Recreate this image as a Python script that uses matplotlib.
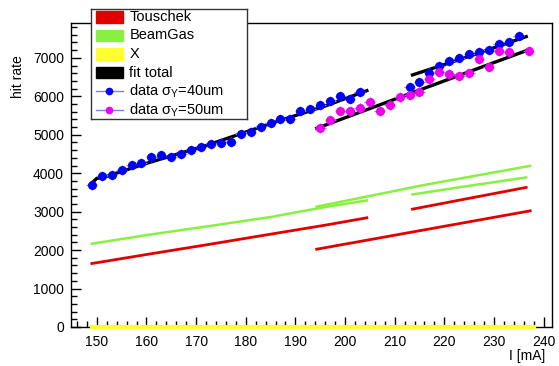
import matplotlib
matplotlib.use('Agg')
import matplotlib.pyplot as plt
from matplotlib.patches import Rectangle
from matplotlib.lines import Line2D
from matplotlib.ticker import MultipleLocator

plt.rcParams['font.family'] = ['Liberation Sans', 'DejaVu Sans']

# measured hit rate, sigma_Y = 40um
cur_40 = [149, 151, 153, 155, 157, 159, 161, 163, 165, 167, 169, 171, 173, 175,
          177, 179, 181, 183, 185, 187, 189, 191, 193, 195, 197, 199, 201, 203,
          213, 215, 217, 219, 221, 223, 225, 227, 229, 231, 233, 235]
rate_40 = [3690, 3917, 3943, 4073, 4203, 4271, 4411, 4479, 4427, 4505, 4602, 4684, 4770, 4797,
           4814, 5022, 5074, 5193, 5313, 5401, 5409, 5612, 5681, 5773, 5880, 5995, 5926, 6120,
           6250, 6364, 6599, 6797, 6927, 7005, 7094, 7161, 7198, 7362, 7414, 7578]

# measured hit rate, sigma_Y = 50um
cur_50 = [195, 197, 199, 201, 203, 205, 207, 209, 211, 213, 215, 217, 219, 221,
          223, 225, 227, 229, 231, 233, 237]
rate_50 = [5167, 5391, 5609, 5625, 5695, 5844, 5609, 5781, 5990, 6026, 6120, 6443, 6641, 6581,
           6521, 6599, 6964, 6771, 7180, 7154, 7188]

# fit components, 40um first fill
cur_40a = [149.0, 160, 172.5, 185, 196, 204.4]
tous_40a = [1651, 1885, 2146, 2414, 2648, 2840]
gas_40a = [2165, 2390, 2622, 2860, 3120, 3290]
cur_fit_40a = [149.1, 150.0, 151.7, 160, 172.5, 185, 196, 204.4]
fit_40a = [3760, 3865, 3906, 4255, 4740, 5290, 5747, 6146]

# fit components, 40um second fill
cur_40b = [213.6, 224.6, 236.5]
tous_40b = [3065, 3337, 3630]
gas_40b = [3447, 3664, 3890]
fit_40b = [6555, 7020, 7552]

# fit components, 50um
cur_50f = [194.3, 215.8, 237.3]
tous_50 = [2023, 2522, 3021]
gas_50 = [3130, 3690, 4190]
fit_50 = [5167, 6200, 7224]

# X component
cur_x = [149, 238]
rate_x = [0, 0]

red = '#e00000'
green = '#88f040'
yellow = '#ffff30'
errc = '#8080e0'

fig = plt.figure(figsize=(5.59, 3.66), dpi=100)
ax = fig.add_axes([71 / 559, 1 - 327 / 366, (552 - 71) / 559, (327 - 23) / 366])

for c, t in [(cur_40a, tous_40a), (cur_40b, tous_40b), (cur_50f, tous_50)]:
    ax.plot(c, t, color=red, lw=2.0, zorder=2)
for c, g in [(cur_40a, gas_40a), (cur_40b, gas_40b), (cur_50f, gas_50)]:
    ax.plot(c, g, color=green, lw=1.8, zorder=2)
ax.plot(cur_x, rate_x, color=yellow, lw=3, zorder=5, clip_on=False)
for c, f in [(cur_fit_40a, fit_40a), (cur_40b, fit_40b), (cur_50f, fit_50)]:
    ax.plot(c, f, color='black', lw=2.4, zorder=3)

ax.errorbar(cur_40, rate_40, xerr=1.1, yerr=130, fmt='o', color='#0000ff', ms=5.5,
            ecolor=errc, elinewidth=1, capsize=0, zorder=4)
ax.errorbar(cur_50, rate_50, xerr=1.1, yerr=130, fmt='o', color='#ee00ee', ms=5.5,
            ecolor=errc, elinewidth=1, capsize=0, zorder=4)

ax.set_xlim(144.8, 241.7)
ax.set_ylim(0, 7906)
ax.xaxis.set_major_locator(MultipleLocator(10))
ax.xaxis.set_minor_locator(MultipleLocator(2))
ax.yaxis.set_major_locator(MultipleLocator(1000))
ax.yaxis.set_minor_locator(MultipleLocator(200))
ax.tick_params(which='both', direction='in', top=False, right=False, labelsize=10)
ax.tick_params(which='major', length=7, width=1)
ax.tick_params(which='minor', length=4, width=1)
ax.tick_params(axis='y', pad=5)
ax.tick_params(axis='x', pad=6)
for s in ax.spines.values():
    s.set_linewidth(1)
    s.set_color('black')

fig.text(18 / 559, 1 - 55 / 366, 'hit rate', rotation=90, ha='center', va='top', fontsize=10)
fig.text(545 / 559, 1 - 349 / 366, 'I [mA]', ha='right', va='top', fontsize=10)

# legend
lg = fig.add_axes([91 / 559, 1 - 119 / 366, 156 / 559, 110 / 366], zorder=10)
lg.set_xlim(0, 1)
lg.set_ylim(0, 1)
lg.set_xticks([])
lg.set_yticks([])
for s in lg.spines.values():
    s.set_linewidth(1)
    s.set_color('#333333')

labels = ['Touschek', 'BeamGas', 'X', 'fit total',
          r'data $\mathregular{\sigma_Y}$=40um', r'data $\mathregular{\sigma_Y}$=50um']
fills = [red, green, yellow, 'black']
dots = ['#0000ff', '#ee00ee']
for i, lab in enumerate(labels):
    y = 0.93 - i * 0.1695
    if i < 4:
        lg.add_patch(Rectangle((0.030, y - 0.053), 0.177, 0.106, color=fills[i]))
    else:
        lg.add_line(Line2D([0.030, 0.207], [y, y], color=errc, lw=1))
        lg.plot([0.117], [y], 'o', color=dots[i - 4], ms=4.5)
    lg.text(0.246, y, lab, ha='left', va='center', fontsize=10.5)

fig.savefig('out.png', dpi=100)
